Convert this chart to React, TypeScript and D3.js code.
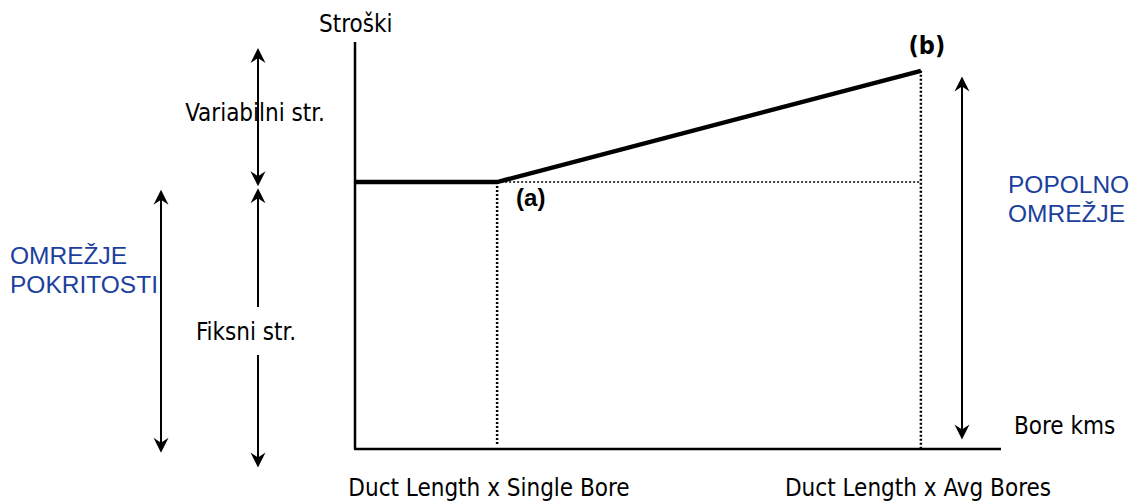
import * as d3 from "d3";

const WIDTH = 1133;
const HEIGHT = 502;
const PLOT = { left: 355, right: 1001, top: 42, bottom: 449 };

// cost curve: flat fixed part up to (a), then rising variable part to (b)
const costX = [0, 22, 87.6];
const costY = [65.5, 65.5, 92.9];
const pointLabels = ["(a)", "(b)"];
const xTickLabels = ["Duct Length x Single Bore", "Duct Length x Avg Bores"];
const axisTitles = ["Bore kms", "Stroški"];

// range arrows (cost units)
const variableRange = [98.5, 64.5];
const fixedRange = [64.0, -4.8];
const coverageRange = [63.6, -1.2];
const fullRange = [91.5, 2.1];
const coverageLabel = ["OMREŽJE", "POKRITOSTI"];
const fullLabel = ["POPOLNO", "OMREŽJE"];

const BLUE = "#1c3f9e";
const FONT = "'DejaVu Sans Condensed', 'DejaVu Sans', sans-serif";

const Arrow = ({ x, y0, y1, gap }: { x: number; y0: number; y1: number; gap?: [number, number] }) => {
  const head = (yTip: number, dir: number) =>
    `M${x},${yTip} L${x - 7.5},${yTip + dir * 15} L${x},${yTip + dir * 10} L${x + 7.5},${yTip + dir * 15} Z`;
  return (
    <g>
      {gap ? (
        <>
          <line x1={x} x2={x} y1={y0 + 6} y2={gap[0]} stroke="black" strokeWidth={2} />
          <line x1={x} x2={x} y1={gap[1]} y2={y1 - 6} stroke="black" strokeWidth={2} />
        </>
      ) : (
        <line x1={x} x2={x} y1={y0 + 6} y2={y1 - 6} stroke="black" strokeWidth={2} />
      )}
      <path d={head(y0, 1)} fill="black" />
      <path d={head(y1, -1)} fill="black" />
    </g>
  );
};

export default function App() {
  const xScale = d3.scaleLinear().domain([0, 100]).range([PLOT.left, PLOT.right]);
  const yScale = d3.scaleLinear().domain([0, 100]).range([448, 42]);

  const pts = costX.map((x, i) => [xScale(x), yScale(costY[i])] as [number, number]);
  const line = d3.line();
  const a = pts[1];
  const b = pts[2];

  return (
    <svg width={WIDTH} height={HEIGHT} style={{ position: "absolute", left: 0, top: 0 }}>
      {/* dotted guides */}
      <g stroke="black" strokeWidth={2.5} strokeDasharray="2,2">
        <line x1={a[0]} x2={a[0]} y1={a[1]} y2={PLOT.bottom - 4} />
        <line x1={a[0]} x2={b[0]} y1={a[1]} y2={a[1]} strokeWidth={1.5} />
        <line x1={b[0]} x2={b[0]} y1={b[1]} y2={PLOT.bottom} />
      </g>

      {/* axes */}
      <line x1={PLOT.left} x2={PLOT.left} y1={PLOT.top} y2={PLOT.bottom} stroke="black" strokeWidth={2.5} />
      <line x1={PLOT.left - 1} x2={PLOT.right} y1={PLOT.bottom} y2={PLOT.bottom} stroke="black" strokeWidth={2.5} />

      {/* cost curve */}
      <path d={line(pts) ?? ""} fill="none" stroke="black" strokeWidth={4.5} />

      {/* arrows */}
      <Arrow x={258} y0={yScale(variableRange[0])} y1={yScale(variableRange[1])} />
      <Arrow x={258} y0={yScale(fixedRange[0])} y1={yScale(fixedRange[1])} gap={[307, 355]} />
      <Arrow x={161} y0={yScale(coverageRange[0])} y1={yScale(coverageRange[1])} />
      <Arrow x={962} y0={yScale(fullRange[0])} y1={yScale(fullRange[1])} />

      {/* black labels */}
      <g fontFamily={FONT} fontSize={24} fill="black">
        <text x={319} y={32}>{axisTitles[1]}</text>
        <text x={1014} y={434}>{axisTitles[0]}</text>
        <text x={255} y={121} textAnchor="middle">Variabilni str.</text>
        <text x={246} y={340} textAnchor="middle">Fiksni str.</text>
        <text x={489} y={496} textAnchor="middle">{xTickLabels[0]}</text>
        <text x={918} y={496} textAnchor="middle">{xTickLabels[1]}</text>
      </g>

      <text x={a[0] + 19} y={a[1] + 24} fontFamily="'Liberation Sans', Arial, sans-serif" fontWeight="bold" fontSize={24} fill="black">
        {pointLabels[0]}
      </text>
      <text x={b[0] + 6} y={54} textAnchor="middle" fontFamily={FONT} fontWeight="bold" fontSize={25} fill="black">
        {pointLabels[1]}
      </text>

      {/* blue labels */}
      <g fontFamily="'Liberation Sans', Arial, sans-serif" fontSize={24.5} fill={BLUE}>
        <text x={10} y={264}>{coverageLabel[0]}</text>
        <text x={10} y={293}>{coverageLabel[1]}</text>
        <text x={1008} y={193}>{fullLabel[0]}</text>
        <text x={1008} y={222}>{fullLabel[1]}</text>
      </g>
    </svg>
  );
}
